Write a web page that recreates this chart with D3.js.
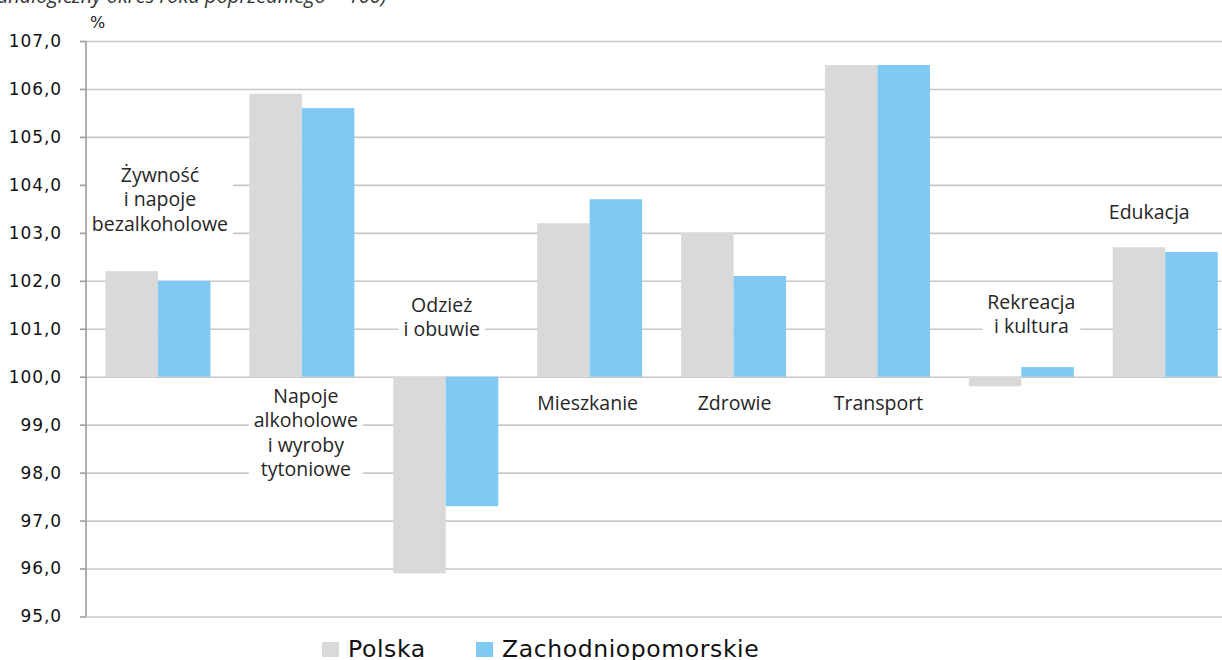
<!DOCTYPE html>
<html>
<head>
<meta charset="utf-8">
<script src="https://cdn.jsdelivr.net/npm/d3@7"></script>
<style>
  html, body { margin: 0; padding: 0; background: #ffffff; }
  svg { display: block; }
</style>
</head>
<body>
<svg id="chart" width="1222" height="660"></svg>
<script>
// ---- data ----
const categories = ["Żywność", "Napoje", "Odzież", "Mieszkanie", "Zdrowie", "Transport", "Rekreacja", "Edukacja"];
const categoryLabels = [
  ["Żywność", "i napoje", "bezalkoholowe"],
  ["Napoje", "alkoholowe", "i wyroby", "tytoniowe"],
  ["Odzież", "i obuwie"],
  ["Mieszkanie"],
  ["Zdrowie"],
  ["Transport"],
  ["Rekreacja", "i kultura"],
  ["Edukacja"]
];
const seriesNames = ["Polska", "Zachodniopomorskie"];
const polska = [102.2, 105.9, 95.9, 103.2, 103.0, 106.5, 99.8, 102.7];
const zachodniopomorskie = [102.0, 105.6, 97.3, 103.7, 102.1, 106.5, 100.2, 102.6];
const yTicks = [95, 96, 97, 98, 99, 100, 101, 102, 103, 104, 105, 106, 107];
const baseValue = 100;
const unitLabel = "%";
const subtitle = "analogiczny okres roku poprzedniego = 100)";

// ---- layout (not data) ----
const labelLayout = [
  { dx: 2, y: 182 },
  { dx: 4, y: 403 },
  { dx: -4, y: 312 },
  { dx: -2, y: 410 },
  { dx: 1, y: 410 },
  { dx: 1, y: 410 },
  { dx: 10, y: 309 },
  { dx: -16, y: 219 }
];
const colors = ["#d9d9d9", "#7fc9f3"];
const plotLeft = 86, plotTop = 41, plotBottom = 616.5, step = 143.9;

const svg = d3.select("#chart");

const y = d3.scaleLinear().domain([95, 107]).range([plotBottom, plotTop]);
const x0 = d3.scaleBand().domain(categories).range([plotLeft, plotLeft + step * categories.length]).paddingInner(0).paddingOuter(0);
const x1 = d3.scaleBand().domain(seriesNames).range([0, x0.bandwidth()]).paddingInner(0).paddingOuter(0.37);

const fmt = v => d3.format(".1f")(v).replace(".", ",");

// subtitle (cropped at top)
svg.append("text")
  .attr("x", -3).attr("y", 3)
  .attr("font-family", "Open Sans").attr("font-style", "italic").attr("font-size", 20)
  .attr("fill", "#333").text(subtitle);

// unit
svg.append("text")
  .attr("x", 90).attr("y", 28)
  .attr("font-family", "DejaVu Sans").attr("font-size", 16)
  .attr("fill", "#222").text(unitLabel);

// gridlines
const grid = svg.append("g")
  .attr("transform", `translate(${plotLeft},0)`)
  .call(d3.axisLeft(y).tickValues(yTicks).tickSize(-(1222 - plotLeft)).tickFormat(""));
grid.select(".domain").remove();
grid.selectAll(".tick line").attr("stroke", "#c8c8c8").attr("stroke-width", 1.6);

// bars
const data = categories.map((c, i) => ({ cat: c, vals: [polska[i], zachodniopomorskie[i]] }));
const groups = svg.append("g").selectAll("g").data(data).join("g")
  .attr("transform", d => `translate(${x0(d.cat)},0)`);
groups.selectAll("rect").data(d => d.vals.map((v, j) => ({ v, s: seriesNames[j], j }))).join("rect")
  .attr("x", d => x1(d.s))
  .attr("width", x1.bandwidth())
  .attr("y", d => y(Math.max(d.v, baseValue)))
  .attr("height", d => Math.abs(y(d.v) - y(baseValue)))
  .attr("fill", d => colors[d.j]);

// category labels with white boxes
const labG = svg.append("g");
categories.forEach((c, i) => {
  const g = labG.append("g");
  const cx = x0(c) + x0.bandwidth() / 2 + labelLayout[i].dx;
  const rect = g.append("rect").attr("fill", "#ffffff");
  const t = g.append("text")
    .attr("font-family", "Open Sans").attr("font-size", 19.5)
    .attr("fill", "#262626").attr("text-anchor", "middle");
  categoryLabels[i].forEach((line, k) => {
    t.append("tspan").attr("x", cx).attr("y", labelLayout[i].y + k * 24.3).text(line);
  });
  const bb = t.node().getBBox();
  rect.attr("x", bb.x - 5).attr("y", bb.y - 1).attr("width", bb.width + 10).attr("height", bb.height + 2);
});

// y axis
const yAxis = svg.append("g")
  .attr("transform", `translate(${plotLeft},0)`)
  .call(d3.axisLeft(y).tickValues(yTicks).tickSize(6).tickPadding(18).tickFormat(fmt));
yAxis.select(".domain").attr("stroke", "#9c9c9c").attr("stroke-width", 1.6).attr("d", `M0,${plotTop}V${plotBottom}`);
yAxis.selectAll(".tick line").attr("stroke", "#9c9c9c").attr("stroke-width", 1.6);
yAxis.selectAll(".tick text")
  .attr("font-family", "DejaVu Sans").attr("font-size", 17).attr("letter-spacing", 0.9)
  .attr("fill", "#111");

// legend
const legend = svg.append("g");
const legendX = [322, 476];
seriesNames.forEach((s, j) => {
  legend.append("rect").attr("x", legendX[j]).attr("y", 642).attr("width", 17).attr("height", 15).attr("fill", colors[j]);
  legend.append("text").attr("x", legendX[j] + 26).attr("y", 657)
    .attr("font-family", "DejaVu Sans").attr("font-size", 23.5).attr("letter-spacing", 0.6)
    .attr("fill", "#111").text(s);
});
</script>
</body>
</html>
